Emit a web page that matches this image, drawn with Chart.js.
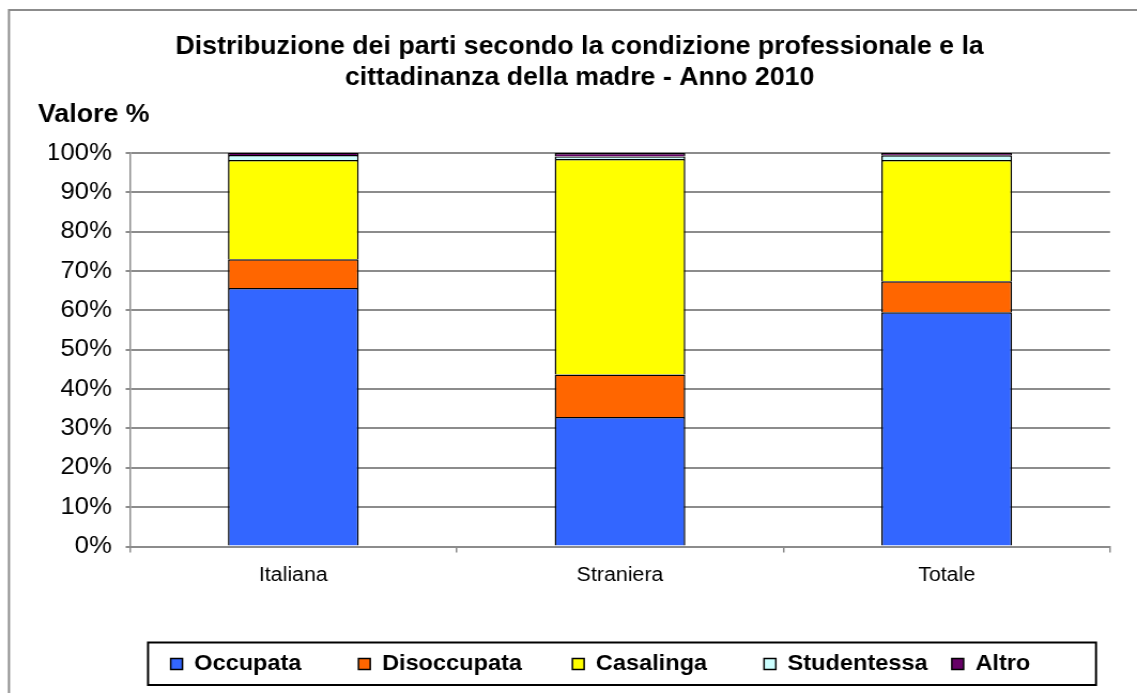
<!DOCTYPE html>
<html>
<head>
<meta charset="utf-8">
<script src="https://cdn.jsdelivr.net/npm/chart.js@4.4.0/dist/chart.umd.min.js"></script>
<style>
  html, body { margin: 0; padding: 0; background: #fff; overflow: hidden; }
  /* the original picture is a little stretched sideways */
  #wrap { width: 1063px; height: 693px; transform: scaleX(1.0696); transform-origin: 0 0; }
</style>
</head>
<body>
<div id="wrap"><canvas id="chart" width="1063" height="693"></canvas></div>
<script>
// categories and shares (%)
var categories = ['Italiana', 'Straniera', 'Totale'];
var occupata    = [65.7, 32.9, 59.5];
var disoccupata = [7.3, 10.8, 7.9];
var casalinga   = [25.2, 54.8, 30.8];
var studentessa = [1.3, 0.6, 1.2];
var altro       = [0.5, 0.9, 0.6];
var yTicks = [0, 10, 20, 30, 40, 50, 60, 70, 80, 90, 100];

var FONT = 'Arial, "Liberation Sans", sans-serif';
// trailing gaps after each legend entry, the original spaces them unevenly
var legendGap = ['       ', '      ', '       ', '  ', ''];

function ds(label, data, color) {
    return {
        label: label, data: data, backgroundColor: color,
        borderColor: '#000', borderWidth: 1.5,
        categoryPercentage: 1, barPercentage: 0.4
    };
}

// frame, "Valore %" label and legend box
var decor = {
    id: 'decor',
    afterLayout: function (chart) {
        chart.legend.left += 19.5;
        chart.legend.right += 19.5;
    },
    afterDraw: function (chart) {
        var c = chart.ctx;
        c.save();
        c.strokeStyle = '#8c8c8c';
        c.lineWidth = 2;
        c.strokeRect(8.4, 10, 1100, 700);
        c.fillStyle = '#000';
        c.font = 'bold 25px ' + FONT;
        c.textBaseline = 'middle';
        c.textAlign = 'left';
        c.fillText('Valore %', 35.5, 115);
        var lg = chart.legend;
        c.strokeStyle = '#000';
        c.lineWidth = 2;
        c.strokeRect(138.4, lg.top, 886.3, lg.bottom - lg.top);
        c.restore();
    }
};

new Chart(document.getElementById('chart'), {
    type: 'bar',
    data: {
        labels: categories,
        datasets: [
            ds('Occupata', occupata, '#3366FF'),
            ds('Disoccupata', disoccupata, '#FF6600'),
            ds('Casalinga', casalinga, '#FFFF00'),
            ds('Studentessa', studentessa, '#CCFFFF'),
            ds('Altro', altro, '#660066')
        ]
    },
    options: {
        responsive: false,
        animation: false,
        devicePixelRatio: 1,
        layout: { padding: { left: 46, right: 25.2, top: 0, bottom: 8 } },
        plugins: {
            tooltip: { enabled: false },
            title: {
                display: true,
                text: ['Distribuzione dei parti secondo la condizione professionale e la',
                       'cittadinanza della madre - Anno 2010'],
                color: '#000',
                font: { family: FONT, size: 25, weight: 'bold', lineHeight: 1.24 },
                padding: { top: 31.5, bottom: 59.5 }
            },
            legend: {
                position: 'bottom',
                labels: {
                    color: '#000',
                    font: { family: FONT, size: 22, weight: 'bold' },
                    boxWidth: 11, boxHeight: 11,
                    padding: 10.5,
                    generateLabels: function (chart) {
                        return chart.data.datasets.map(function (d, i) {
                            return {
                                text: d.label + legendGap[i],
                                fillStyle: d.backgroundColor,
                                strokeStyle: '#000', lineWidth: 1.5,
                                datasetIndex: i, hidden: false
                            };
                        });
                    }
                }
            }
        },
        scales: {
            x: {
                stacked: true,
                afterFit: function (s) { s.height = 96; },
                grid: { display: true, drawOnChartArea: false, offset: true, color: '#8c8c8c', lineWidth: 1.5, tickLength: 6 },
                border: { color: '#8c8c8c', width: 2 },
                ticks: { color: '#000', font: { family: FONT, size: 20 }, padding: 11 }
            },
            y: {
                stacked: true,
                min: 0, max: 100,
                afterFit: function (s) { s.width = 75.5; },
                afterBuildTicks: function (s) {
                    s.ticks = yTicks.map(function (v) { return { value: v }; });
                },
                grid: { color: '#8c8c8c', lineWidth: 2, tickLength: 4 },
                border: { color: '#8c8c8c', width: 1.5 },
                ticks: {
                    color: '#000', font: { family: FONT, size: 24 }, padding: 13,
                    callback: function (v) { return v + '%'; }
                }
            }
        }
    },
    plugins: [decor]
});
</script>
</body>
</html>
